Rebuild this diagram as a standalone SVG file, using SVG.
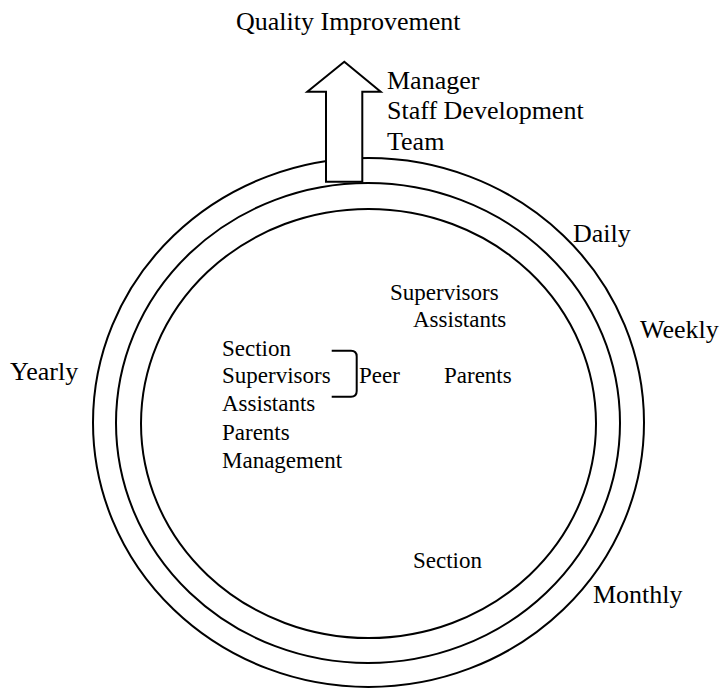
<svg xmlns="http://www.w3.org/2000/svg" width="723" height="688" viewBox="0 0 723 688">
<style>
.ring{fill:none;stroke:#000;stroke-width:2}
.lbl{font-family:"Liberation Serif","Times New Roman",serif;font-size:26px;fill:#000}
.in{font-family:"Liberation Serif","Times New Roman",serif;font-size:23px;fill:#000}
</style>
<rect width="723" height="688" fill="#fff"/>
<g id="rings">
<ellipse id="outer" class="ring" cx="368.5" cy="422.5" rx="275.5" ry="264.5"/>
<ellipse id="middle" class="ring" cx="368" cy="423" rx="252" ry="240"/>
<ellipse id="inner" class="ring" cx="368.5" cy="423.5" rx="227.5" ry="214.5"/>
</g>
<g id="arrow">
<polygon points="344.3,61.7 380.7,91.7 362.3,91.7 362.3,181.7 326,181.7 326,91.7 307.3,91.7" fill="#fff" stroke="#000" stroke-width="2" stroke-linejoin="miter"/>
</g>
<g id="connectors">
<path d="M331.7,350.7 H351 Q356.7,350.7 356.7,356.4 V391 Q356.7,396.7 351,396.7 H331.7" fill="none" stroke="#000" stroke-width="2"/>
</g>
<g id="title"><text class="lbl" x="236" y="30">Quality Improvement</text></g>
<g id="team">
<text class="lbl" x="387" y="89">Manager</text>
<text class="lbl" x="387" y="119">Staff Development</text>
<text class="lbl" x="387" y="150">Team</text>
</g>
<g id="daily"><text class="lbl" x="573" y="242">Daily</text></g>
<g id="weekly"><text class="lbl" x="640" y="338">Weekly</text></g>
<g id="yearly"><text class="lbl" x="10" y="380">Yearly</text></g>
<g id="monthly"><text class="lbl" x="593" y="603">Monthly</text></g>
<g id="daily-members">
<text class="in" x="390" y="300">Supervisors</text>
<text class="in" x="413" y="327">Assistants</text>
</g>
<g id="weekly-members"><text class="in" x="444" y="383">Parents</text></g>
<g id="yearly-members">
<text class="in" x="222" y="356">Section</text>
<text class="in" x="222" y="383">Supervisors</text>
<text class="in" x="222" y="411">Assistants</text>
<text class="in" x="222" y="440">Parents</text>
<text class="in" x="222" y="468">Management</text>
</g>
<g id="peer"><text class="in" x="359" y="383">Peer</text></g>
<g id="monthly-members"><text class="in" x="413" y="568">Section</text></g>
</svg>
